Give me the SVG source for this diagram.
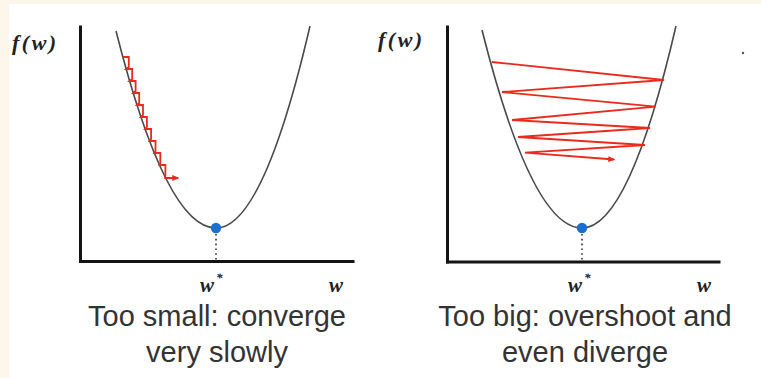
<svg xmlns="http://www.w3.org/2000/svg" width="761" height="378" viewBox="0 0 761 378">
  <defs>
    <style>
      .axis{stroke:#141414;stroke-width:3;fill:none;stroke-linecap:square}
      .curve{stroke:#4a4a4a;stroke-width:1.6;fill:none}
      .path{stroke:#ea2a1c;stroke-width:1.8;fill:none;stroke-linejoin:miter}
      .dots{stroke:#333;stroke-width:1.6;stroke-dasharray:1.6 3.2;fill:none}
      .min{fill:#1a6fd0}
      .math{font-family:"Liberation Serif",serif;font-style:italic;font-weight:bold;fill:#222}
      .cap{font-family:"Liberation Sans",Arial,sans-serif;font-size:29px;fill:#333;text-anchor:middle}
    </style>
    <marker id="ah" viewBox="0 0 10 10" refX="8" refY="5" markerWidth="4" markerHeight="4" orient="auto" markerUnits="strokeWidth">
      <path d="M0,1 L10,5 L0,9 Z" fill="#ea2a1c"/>
    </marker>
  </defs>
  <rect x="0" y="0" width="761" height="378" fill="#fcf7ea"/>
  <rect x="9" y="4" width="752" height="374" fill="#ffffff"/>
  <circle cx="743" cy="53" r="1.2" fill="#555"/>

  <g id="left-panel">
    <g id="left-axes">
      <line class="axis" x1="80.5" y1="27" x2="80.5" y2="261.5"/>
      <line class="axis" x1="80.5" y1="261.5" x2="353" y2="261.5"/>
      <text class="math" x="12" y="50" font-size="22" letter-spacing="2.5">f(w)</text>
      <text class="math" x="200" y="292" font-size="21">w</text>
      <text class="math" x="216" y="282" font-size="13">*</text>
      <text class="math" x="329" y="292" font-size="21">w</text>
    </g>
    <g id="left-curve">
      <path class="curve" d="M116,31 Q166,228 216,228 Q263,228 310,26"/>
      <line class="dots" x1="216" y1="234" x2="216" y2="260"/>
      <circle class="min" cx="216" cy="228" r="5.2"/>
    </g>
    <g id="left-steps">
      <polyline class="path" marker-end="url(#ah)" points="122.8,57 128.8,57 128.8,67 126.2,69 132.2,69 132.2,79 129.6,81 135.6,81 135.6,91 133.2,93 139.2,93 139.2,103 137,105 143,105 143,115 140.9,117 146.9,117 146.9,127 145.1,129 151.1,129 151.1,139 149.5,141 155.5,141 155.5,151 154.3,153 160.3,153 160.3,163 159.4,165 165.4,165 165.4,175 165.1,178 178,178"/>
    </g>
    <text class="cap" x="217" y="326">Too small: converge</text>
    <text class="cap" x="217" y="362">very slowly</text>
  </g>

  <g id="right-panel">
    <g id="right-axes">
      <line class="axis" x1="447.5" y1="27" x2="447.5" y2="262" />
      <line class="axis" x1="447.5" y1="262" x2="719" y2="262"/>
      <text class="math" x="378" y="47" font-size="22" letter-spacing="2.5">f(w)</text>
      <text class="math" x="568" y="292" font-size="21">w</text>
      <text class="math" x="584" y="282" font-size="13">*</text>
      <text class="math" x="697" y="292" font-size="21">w</text>
    </g>
    <g id="right-curve">
      <path class="curve" d="M482,30 Q532,228 582,228 Q629,228 676,26"/>
      <line class="dots" x1="582" y1="234" x2="582" y2="260"/>
      <circle class="min" cx="582" cy="228" r="5.2"/>
    </g>
    <g id="right-steps">
      <polyline class="path" marker-end="url(#ah)" points="491.7,62 664,80 502,92 655.7,106.7 512,120 650,128 518,137 645,145 525,152.7 614,159.5"/>
    </g>
    <text class="cap" x="585" y="326">Too big: overshoot and</text>
    <text class="cap" x="585" y="362">even diverge</text>
  </g>
</svg>
